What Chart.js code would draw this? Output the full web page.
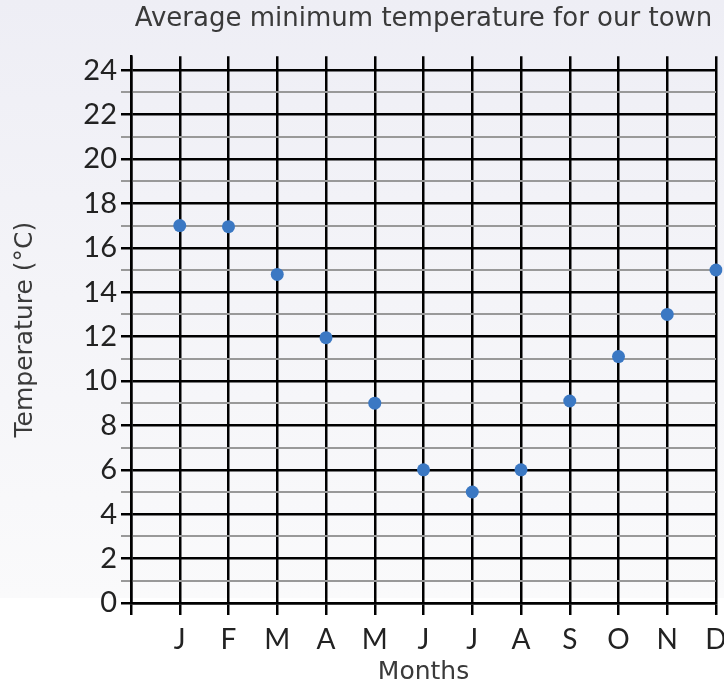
<!DOCTYPE html>
<html>
<head>
<meta charset="utf-8">
<script src="https://cdn.jsdelivr.net/npm/chart.js@4"></script>
<style>
html,body{margin:0;padding:0;background:#fff;}
#wrap{width:724px;height:688px;position:relative;}
</style>
</head>
<body>
<div id="wrap"><canvas id="c" width="724" height="688"></canvas></div>
<script>
const chartTitle = 'Average minimum temperature for our town';
const xTitle = 'Months';
const yTitle = 'Temperature (°C)';
const months = ['J','F','M','A','M','J','J','A','S','O','N','D'];
const minTemps = [17, 16.95, 14.8, 11.95, 9, 6, 5, 6, 9.1, 11.1, 13, 15];
const yTickValues = [0,1,2,3,4,5,6,7,8,9,10,11,12,13,14,15,16,17,18,19,20,21,22,23,24];

const labels = [''].concat(months);
const values = [null].concat(minTemps);

const FONT = 'Lato, "Open Sans", sans-serif';
const TFONT = '"DejaVu Sans", Lato, sans-serif';

const bgPlugin = {
  id: 'bg',
  beforeDraw(chart) {
    const ctx = chart.ctx;
    ctx.save();
    ctx.fillStyle = '#ffffff';
    ctx.fillRect(0, 0, chart.width, chart.height);
    const g = ctx.createLinearGradient(0, 0, 0, 598);
    g.addColorStop(0, '#eeeef5');
    g.addColorStop(1, '#fafafb');
    ctx.fillStyle = g;
    ctx.fillRect(0, 0, chart.width, 598);
    ctx.restore();
  }
};

new Chart(document.getElementById('c'), {
  type: 'line',
  data: {
    labels: labels,
    datasets: [{
      data: values,
      showLine: false,
      pointRadius: 6.5,
      pointHoverRadius: 6.5,
      pointBackgroundColor: '#3b78c3',
      pointBorderColor: '#3b78c3',
      pointBorderWidth: 0
    }]
  },
  options: {
    responsive: false,
    animation: false,
    devicePixelRatio: 1,
    layout: { padding: { left: 0, right: 8, top: 0, bottom: 0 } },
    plugins: {
      legend: { display: false },
      tooltip: { enabled: false },
      title: {
        display: true,
        fullSize: false,
        text: chartTitle,
        color: '#3a3a3a',
        font: { family: TFONT, size: 26, weight: 'normal' },
        padding: { top: 4, bottom: 21 }
      }
    },
    scales: {
      x: {
        type: 'category',
        offset: false,
        grid: {
          color: '#000000',
          lineWidth: 2.5,
          tickLength: 12,
          drawOnChartArea: true
        },
        border: { display: true, color: '#000000', width: 2.5 },
        ticks: {
          color: '#222222',
          font: { family: FONT, size: 28 },
          padding: 8,
          autoSkip: false,
          maxRotation: 0
        },
        title: {
          display: true,
          text: xTitle,
          color: '#3a3a3a',
          font: { family: TFONT, size: 25 },
          padding: { top: 0, bottom: 1 }
        },
        afterFit(scale) {
          scale.height = 85;
          scale.paddingLeft = 0;
          scale.paddingRight = 0;
        }
      },
      y: {
        type: 'linear',
        min: 0,
        max: 24.63,
        afterBuildTicks(scale) {
          scale.ticks = yTickValues.map(v => ({ value: v }));
        },
        grid: {
          color: (c) => (c.tick && c.tick.value % 2 === 0) ? '#000000' : '#999999',
          lineWidth: (c) => (c.tick && c.tick.value % 2 === 0) ? 2.5 : 2,
          tickLength: 10
        },
        border: { display: true, color: '#000000', width: 2.5 },
        ticks: {
          color: '#222222',
          font: { family: FONT, size: 29 },
          padding: 4,
          autoSkip: false,
          callback: (v) => (v % 2 === 0 ? String(v) : '')
        },
        title: {
          display: true,
          text: yTitle,
          color: '#3a3a3a',
          font: { family: TFONT, size: 25 },
          padding: { top: 10, bottom: 0 }
        },
        afterFit(scale) { scale.width = 131; }
      }
    }
  },
  plugins: [bgPlugin]
});
</script>
</body>
</html>
